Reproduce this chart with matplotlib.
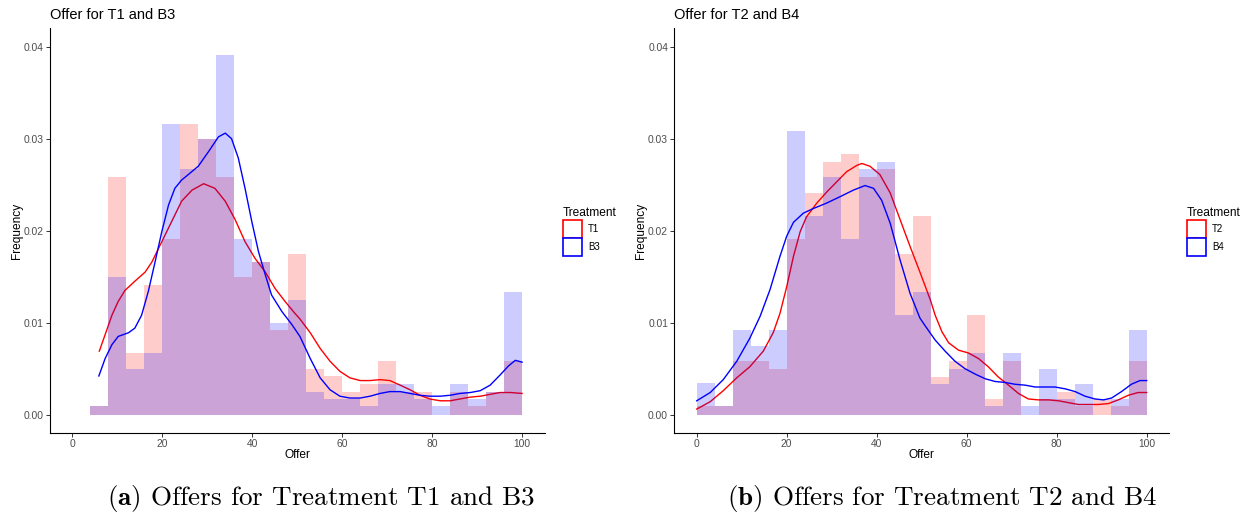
import matplotlib
matplotlib.use("Agg")
import matplotlib.pyplot as plt
from matplotlib.patches import Patch
from matplotlib.ticker import FormatStrFormatter

plt.rcParams['font.family'] = ['Liberation Sans', 'DejaVu Sans']
plt.rcParams['mathtext.fontset'] = 'cm'

# histogram bin edges (binwidth 4)
edges_a = [4, 8, 12, 16, 20, 24, 28, 32, 36, 40, 44, 48, 52, 56, 60, 64, 68, 72, 76, 80, 84, 88, 92, 96, 100]
edges_b = [0, 4, 8, 12, 16, 20, 24, 28, 32, 36, 40, 44, 48, 52, 56, 60, 64, 68, 72, 76, 80, 84, 88, 92, 96, 100]

# histogram densities
hist_t1 = [0.0009, 0.0258, 0.0067, 0.0141, 0.0191, 0.0316, 0.0300, 0.0258, 0.0150, 0.0166, 0.0092, 0.0175,
           0.0050, 0.0042, 0.0025, 0.0033, 0.0058, 0.0025, 0.0025, 0.0, 0.0025, 0.0009, 0.0025, 0.0058]
hist_b3 = [0.0009, 0.0150, 0.0050, 0.0067, 0.0316, 0.0267, 0.0300, 0.0391, 0.0191, 0.0166, 0.0100, 0.0125,
           0.0025, 0.0017, 0.0017, 0.0009, 0.0033, 0.0033, 0.0017, 0.0009, 0.0033, 0.0017, 0.0025, 0.0133]
hist_t2 = [0.0009, 0.0009, 0.0058, 0.0058, 0.0050, 0.0191, 0.0241, 0.0275, 0.0283, 0.0258, 0.0267, 0.0175,
           0.0216, 0.0041, 0.0058, 0.0108, 0.0017, 0.0058, 0.0, 0.0017, 0.0025, 0.0009, 0.0017, 0.0009, 0.0058]
hist_b4 = [0.0034, 0.0009, 0.0092, 0.0075, 0.0092, 0.0308, 0.0216, 0.0258, 0.0191, 0.0267, 0.0275, 0.0108,
           0.0133, 0.0033, 0.0050, 0.0067, 0.0009, 0.0067, 0.0009, 0.0050, 0.0017, 0.0033, 0.0, 0.0017, 0.0092]

# density curves
dens_t1_x = [6.0, 7.3, 8.8, 10.2, 11.7, 13.9, 16.2, 17.7, 19.9, 22.1, 24.3, 26.6, 29.2, 31.7, 34.0, 36.2,
             38.4, 40.6, 42.9, 45.1, 47.3, 49.5, 50.6, 52.9, 55.1, 57.3, 59.5, 61.7, 64.0, 66.2, 68.4, 70.6,
             72.9, 75.1, 77.3, 79.5, 81.8, 84.0, 86.2, 88.5, 90.7, 92.9, 95.1, 97.4, 100.0]
dens_t1_y = [0.0069, 0.0087, 0.0108, 0.0123, 0.0135, 0.0145, 0.0155, 0.0166, 0.0188, 0.0210, 0.0232, 0.0244,
             0.0251, 0.0246, 0.0232, 0.0212, 0.0188, 0.0170, 0.0155, 0.0137, 0.0123, 0.0110, 0.0104, 0.0089,
             0.0072, 0.0058, 0.0047, 0.0040, 0.0037, 0.0037, 0.0038, 0.0037, 0.0032, 0.0027, 0.0021, 0.0017,
             0.0015, 0.0015, 0.0017, 0.0019, 0.0020, 0.0022, 0.0024, 0.0024, 0.0023]

dens_b3_x = [5.9, 7.3, 8.8, 10.2, 12.5, 13.9, 15.4, 16.9, 18.4, 19.9, 21.4, 22.8, 24.3, 25.8, 28.0, 30.3,
             32.5, 34.0, 35.4, 36.9, 38.4, 39.9, 41.4, 42.9, 44.3, 46.6, 48.8, 50.6, 52.9, 55.1, 57.3, 59.5,
             61.7, 64.0, 66.2, 68.4, 70.6, 72.9, 75.1, 77.3, 79.5, 81.8, 84.0, 86.2, 88.5, 90.7, 92.9, 95.1,
             97.0, 98.5, 100.0]
dens_b3_y = [0.0042, 0.0061, 0.0076, 0.0085, 0.0089, 0.0094, 0.0108, 0.0134, 0.0166, 0.0199, 0.0228, 0.0246,
             0.0255, 0.0261, 0.0270, 0.0286, 0.0302, 0.0306, 0.0300, 0.0279, 0.0246, 0.0210, 0.0177, 0.0152,
             0.0130, 0.0112, 0.0098, 0.0085, 0.0061, 0.0040, 0.0027, 0.0020, 0.0018, 0.0018, 0.0020, 0.0023,
             0.0025, 0.0025, 0.0023, 0.0021, 0.0020, 0.0020, 0.0021, 0.0023, 0.0024, 0.0026, 0.0032, 0.0043,
             0.0053, 0.0059, 0.0057]

dens_t2_x = [0, 3.0, 5.9, 8.9, 11.8, 14.8, 17.0, 18.5, 20.0, 21.5, 23.0, 24.4, 26.7, 28.9, 31.1, 33.3, 35.6,
             36.7, 38.5, 40.7, 43.0, 45.2, 47.4, 49.6, 51.9, 53.0, 54.5, 56.0, 58.2, 60.4, 62.6, 64.8, 67.0,
             69.3, 71.5, 73.7, 75.9, 78.2, 80.4, 82.6, 84.8, 87.0, 89.3, 91.5, 93.7, 95.9, 98.1, 100]
dens_t2_y = [0.0006, 0.0014, 0.0026, 0.0040, 0.0052, 0.0069, 0.0089, 0.0110, 0.0139, 0.0172, 0.0199, 0.0215,
             0.0230, 0.0242, 0.0253, 0.0264, 0.0271, 0.0273, 0.0270, 0.0261, 0.0241, 0.0212, 0.0183, 0.0155,
             0.0125, 0.0108, 0.0090, 0.0078, 0.0070, 0.0067, 0.0061, 0.0052, 0.0041, 0.0032, 0.0023, 0.0017,
             0.0016, 0.0016, 0.0015, 0.0013, 0.0011, 0.0011, 0.0011, 0.0012, 0.0016, 0.0021, 0.0024, 0.0024]

dens_b4_x = [0, 3.0, 5.9, 8.9, 11.8, 14.1, 16.3, 18.5, 20.0, 21.5, 23.7, 25.9, 28.9, 31.9, 34.8, 37.4, 39.3,
             41.1, 43.0, 45.2, 47.4, 49.6, 50.7, 53.0, 55.2, 57.4, 59.6, 61.9, 64.1, 66.3, 68.5, 70.7, 73.0,
             75.2, 77.4, 79.6, 81.9, 84.1, 86.3, 88.5, 90.4, 92.2, 94.4, 96.6, 98.5, 100]
dens_b4_y = [0.0015, 0.0024, 0.0038, 0.0058, 0.0083, 0.0107, 0.0136, 0.0172, 0.0194, 0.0209, 0.0219, 0.0224,
             0.0230, 0.0237, 0.0244, 0.0249, 0.0246, 0.0233, 0.0208, 0.0168, 0.0132, 0.0105, 0.0097, 0.0081,
             0.0069, 0.0058, 0.0050, 0.0044, 0.0039, 0.0036, 0.0035, 0.0033, 0.0032, 0.0030, 0.0030, 0.0030,
             0.0028, 0.0025, 0.0020, 0.0017, 0.0016, 0.0018, 0.0025, 0.0033, 0.0037, 0.0037]

x_ticks = [0, 20, 40, 60, 80, 100]
y_ticks = [0.00, 0.01, 0.02, 0.03, 0.04]


def draw_panel(ax, edges, hist_red, hist_blue, red_x, red_y, blue_x, blue_y, title, labels, legend_x):
    ax.stairs(hist_red, edges, fill=True, color='red', alpha=0.2, lw=0, zorder=1)
    ax.plot(red_x, red_y, color='red', lw=1.0, zorder=2)
    ax.stairs(hist_blue, edges, fill=True, color='blue', alpha=0.2, lw=0, zorder=3)
    ax.plot(blue_x, blue_y, color='blue', lw=1.0, zorder=4)

    ax.set_xlim(-5, 105)
    ax.set_ylim(-0.002, 0.042)
    ax.set_xticks(x_ticks)
    ax.set_yticks(y_ticks)
    ax.yaxis.set_major_formatter(FormatStrFormatter('%.2f'))
    for s in ['top', 'right']:
        ax.spines[s].set_visible(False)
    for s in ['left', 'bottom']:
        ax.spines[s].set_linewidth(0.8)
        ax.spines[s].set_color('black')
    ax.tick_params(length=2.6, width=0.7, color='#333333', labelcolor='#4D4D4D',
                   labelsize=7.4, pad=1.8)

    ax.set_xlabel('Offer', fontsize=8.6)
    ax.set_ylabel('Frequency', fontsize=8.6)
    ax.xaxis.set_label_coords(0.5, -0.04)
    ax.yaxis.set_label_coords(-0.054, 0.5)
    ax.set_title(title, loc='left', fontsize=10.5, pad=6.5)

    handles = [Patch(facecolor='white', edgecolor='red', lw=1.2),
               Patch(facecolor='white', edgecolor='blue', lw=1.2)]
    ax.legend(handles, labels, title='Treatment', loc='upper left',
              bbox_to_anchor=(legend_x, 0.597), bbox_transform=fig.transFigure,
              frameon=False, fontsize=7, title_fontsize=8.6, handlelength=1.95,
              handleheight=2.47, labelspacing=0.05, handletextpad=0.6,
              borderpad=0, borderaxespad=0, alignment='left')


fig = plt.figure(figsize=(12.49, 5.14), dpi=100)
ax_a = fig.add_axes([0.0399, 0.1576, 0.3961, 0.7874])
ax_b = fig.add_axes([0.5398, 0.1576, 0.3963, 0.7874])

draw_panel(ax_a, edges_a, hist_t1, hist_b3, dens_t1_x, dens_t1_y, dens_b3_x, dens_b3_y,
           'Offer for T1 and B3', ['T1', 'B3'], 0.4508)
draw_panel(ax_b, edges_b, hist_t2, hist_b4, dens_t2_x, dens_t2_y, dens_b4_x, dens_b4_y,
           'Offer for T2 and B4', ['T2', 'B4'], 0.9504)

fig.text(0.257, 0.018, r'$\mathbf{(a)}$ Offers for Treatment T1 and B3', family='cmr10',
         fontsize=19.5, ha='center', va='baseline')
fig.text(0.754, 0.018, r'$\mathbf{(b)}$ Offers for Treatment T2 and B4', family='cmr10',
         fontsize=19.5, ha='center', va='baseline')

fig.savefig('out.png', dpi=100)
